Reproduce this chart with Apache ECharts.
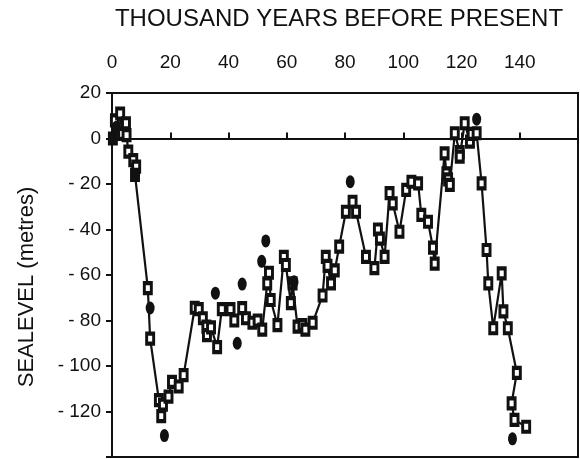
<!DOCTYPE html>
<html>
<head>
<meta charset="utf-8">
<script src="https://cdn.jsdelivr.net/npm/echarts@6/dist/echarts.min.js"></script>
<style>
html,body{margin:0;padding:0;background:#fff;}
#chart{width:580px;height:459px;}
</style>
</head>
<body>
<div id="chart"></div>
<script>
// Open-square record (kyr BP, metres)
const ageKyr = [0.3, 1, 2.8, 3.5, 4.8, 5, 5.6, 7.3, 8.3, 7.9, 12.3, 13.1, 16.1, 16.9, 17.5, 19.4, 20.6, 22.9, 24.6,
  28.4, 29.8, 31.2, 32.4, 32.6, 34, 36.1, 37.7, 40.7, 42, 44.7, 46, 48.2, 50, 51.6, 53.3, 53.9, 54.5, 56.8,
  59, 59.7, 61.4, 62, 63.7, 65.4, 66.4, 68.9, 72.3, 73.4, 74, 75.2, 76.5, 78, 80.3, 82.6, 83.8, 87.2, 90.1,
  91.3, 92, 93.6, 95.3, 96.4, 98.7, 101, 102.8, 105.1, 106.2, 108.5, 110.2, 110.8, 114.2, 114.8, 115.4, 116,
  117.7, 119.4, 119.4, 121.1, 122.9, 123.5, 125.2, 126.9, 128.6, 129.2, 130.9, 133.8, 134.4, 135.9, 139,
  137.2, 138.2, 142.2];
const seaLevel = [0, 8, 11, 2, 6.7, 1.5, -5.8, -9.5, -12.4, -16, -65.8, -88, -115, -122, -117, -113.5, -107, -109, -104,
  -74.4, -75, -79, -82.7, -86.4, -83, -91.7, -75, -75, -80, -74.6, -79, -81, -80, -84, -63.7, -59, -71, -82,
  -52, -55.6, -72.4, -63.7, -82.7, -82, -84, -81, -69, -52, -56, -63.7, -58, -47.5, -32.2, -27.8, -32.2, -52, -57,
  -40, -44, -52, -24, -28.5, -41, -22.6, -19, -19.7, -33.6, -36.6, -48, -55, -6.5, -15.3, -18, -20.4,
  2.3, -6, -8, 6.7, -1.4, 2, 2.3, -19.7, -49, -63.7, -83.4, -59.3, -76, -83.4, -103,
  -116.4, -123.7, -126.7];
// Filled-dot record
const dotAge = [0.2, 1.5, 8, 13.1, 18, 35.5, 43, 44.7, 51.4, 52.8, 62.5, 81.8, 125.2, 137.5];
const dotLevel = [0, 5, -16, -74.5, -130.6, -68, -90, -64, -54, -45, -63, -19, 8.5, -132];

const xTicks = [0, 20, 40, 60, 80, 100, 120, 140];
const yTicks = [20, 0, -20, -40, -60, -80, -100, -120];

const FONT = 'Liberation Sans, Arial, sans-serif';
const chart = echarts.init(document.getElementById('chart'));
chart.setOption({
  animation: false,
  backgroundColor: '#fff',
  grid: {left: 112, top: 93, width: 466, height: 364, show: true, borderColor: '#111', borderWidth: 2,
    backgroundColor: 'transparent', containLabel: false, outerBoundsMode: 'none'},
  xAxis: {
    type: 'value', position: 'top', min: 0, max: 160, interval: 20,
    name: 'THOUSAND YEARS BEFORE PRESENT', nameLocation: 'middle', nameGap: 62,
    nameTextStyle: {fontFamily: FONT, fontSize: 24, color: '#111', padding: [0, 12, 0, 0]},
    axisLine: {show: true, lineStyle: {color: '#111', width: 2}},
    axisTick: {show: true, inside: false, length: 6, lineStyle: {color: '#111', width: 2}},
    axisLabel: {margin: 21, fontFamily: FONT, fontSize: 19, color: '#111',
      formatter: v => xTicks.indexOf(v) >= 0 ? String(v) : ''},
    splitLine: {show: false}
  },
  yAxis: {
    type: 'value', min: -140, max: 20, interval: 20,
    name: 'SEALEVEL (metres)', nameLocation: 'middle', nameGap: 74,
    nameTextStyle: {fontFamily: FONT, fontSize: 22, color: '#111', padding: [0, 24, 0, 0]},
    axisLine: {show: true, onZero: false, lineStyle: {color: '#111', width: 2}},
    axisTick: {show: true, length: 6, lineStyle: {color: '#111', width: 2}},
    axisLabel: {margin: 11, fontFamily: FONT, fontSize: 19, color: '#111',
      formatter: v => yTicks.indexOf(v) < 0 ? '' : (v < 0 ? '- ' + (-v) : String(v))},
    splitLine: {show: false}
  },
  series: [
    {
      type: 'line',
      data: ageKyr.map((a, i) => [a, seaLevel[i]]),
      lineStyle: {color: '#111', width: 2.2},
      symbol: 'rect', symbolSize: [7, 10], showAllSymbol: true,
      itemStyle: {color: '#fff', borderColor: '#111', borderWidth: 3.5, opacity: 1},
      z: 3,
      markLine: {
        silent: true, symbol: 'none', label: {show: false},
        lineStyle: {color: '#111', width: 2, type: 'solid'},
        data: [{yAxis: 0}]
      }
    },
    {
      type: 'scatter',
      data: dotAge.map((a, i) => [a, dotLevel[i]]),
      symbol: 'circle', symbolSize: [9, 13],
      itemStyle: {color: '#111', opacity: 1},
      z: 4
    }
  ]
});
</script>
</body>
</html>
